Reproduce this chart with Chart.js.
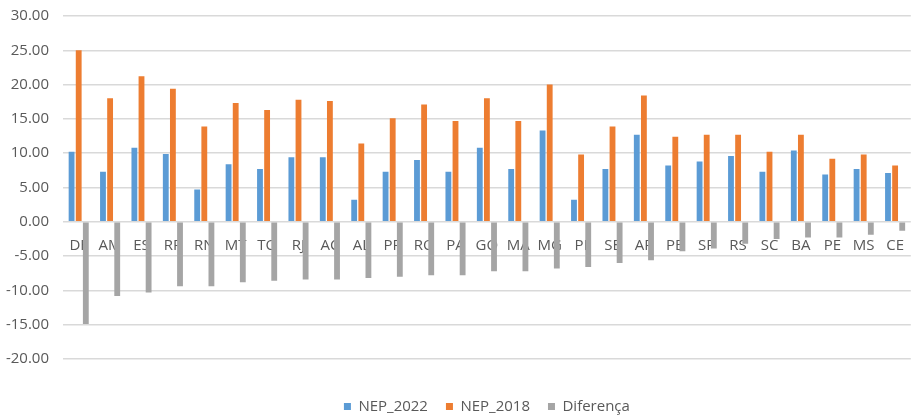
<!DOCTYPE html>
<html>
<head>
<meta charset="utf-8">
<script src="https://cdn.jsdelivr.net/npm/chart.js@4/dist/chart.umd.min.js"></script>
<style>
    html, body { margin: 0; padding: 0; background: #fff; }
    #wrap { width: 911px; height: 418px; }
</style>
</head>
<body>
<div id="wrap"><canvas id="chart" width="911" height="418"></canvas></div>
<script>
// States, ordered by difference
const states = ['DF', 'AM', 'ES', 'RR', 'RN', 'MT', 'TO', 'RJ', 'AC', 'AL', 'PR', 'RO', 'PA', 'GO',
    'MA', 'MG', 'PI', 'SE', 'AP', 'PB', 'SP', 'RS', 'SC', 'BA', 'PE', 'MS', 'CE'];

const nep2022 = [10.2, 7.3, 10.8, 9.9, 4.7, 8.4, 7.7, 9.4, 9.4, 3.2, 7.3, 9.0, 7.3, 10.8,
    7.7, 13.3, 3.2, 7.7, 12.7, 8.2, 8.8, 9.6, 7.3, 10.4, 6.9, 7.7, 7.1];

const nep2018 = [25.0, 18.0, 21.2, 19.4, 13.9, 17.3, 16.3, 17.8, 17.6, 11.4, 15.1, 17.1, 14.7, 18.0,
    14.7, 20.0, 9.8, 13.9, 18.4, 12.4, 12.7, 12.7, 10.2, 12.7, 9.2, 9.8, 8.2];

const diferenca = [-14.9, -10.8, -10.3, -9.4, -9.4, -8.8, -8.6, -8.4, -8.4, -8.2, -8.0, -7.8, -7.8, -7.2,
    -7.2, -6.8, -6.6, -6.0, -5.6, -4.3, -3.9, -3.2, -2.5, -2.3, -2.3, -1.9, -1.3];

const FONT = "'Liberation Sans Narrow', 'Open Sans', sans-serif";
const TEXT = '#595959';

const bar = (label, data, color) => ({
    label: label,
    data: data,
    backgroundColor: color,
    borderWidth: 0,
    categoryPercentage: 0.68,
    barPercentage: 0.82
});

// Center the legend under the plot area instead of the whole canvas
const legendShift = {
    id: 'legendShift',
    afterLayout(chart) {
        const dx = (chart.chartArea.left + chart.chartArea.right - chart.width) / 2;
        chart.legend.left += dx;
        chart.legend.right += dx;
    }
};

new Chart(document.getElementById('chart'), {
    type: 'bar',
    data: {
        labels: states,
        datasets: [
            bar('NEP_2022', nep2022, '#5B9BD5'),
            bar('NEP_2018', nep2018, '#ED7D31'),
            bar('Diferença', diferenca, '#A5A5A5')
        ]
    },
    plugins: [legendShift],
    options: {
        responsive: false,
        animation: false,
        layout: {
            padding: { top: 16, right: 0, bottom: -6, left: 0 }
        },
        plugins: {
            legend: {
                position: 'bottom',
                title: {
                    display: true,
                    text: ' ',
                    padding: 5,
                    font: { size: 10 }
                },
                labels: {
                    color: TEXT,
                    boxWidth: 7,
                    boxHeight: 7,
                    padding: 18,
                    font: { family: FONT, size: 15 }
                }
            },
            tooltip: { enabled: false }
        },
        scales: {
            x: {
                position: { y: 0 },
                grid: { display: false },
                border: { display: false },
                ticks: {
                    color: TEXT,
                    autoSkip: false,
                    maxRotation: 0,
                    padding: 7,
                    font: { family: FONT, size: 15 }
                }
            },
            y: {
                min: -20,
                max: 30,
                afterFit: (scale) => {
                    scale.width = 63;
                    scale.paddingTop = 0;
                    scale.paddingBottom = 0;
                },
                grid: {
                    color: '#D9D9D9',
                    lineWidth: 1.5,
                    drawTicks: false
                },
                border: { display: false },
                ticks: {
                    stepSize: 5,
                    color: TEXT,
                    padding: 14,
                    font: { family: FONT, size: 15 },
                    callback: (value) => value.toFixed(2)
                }
            }
        }
    }
});
</script>
</body>
</html>
